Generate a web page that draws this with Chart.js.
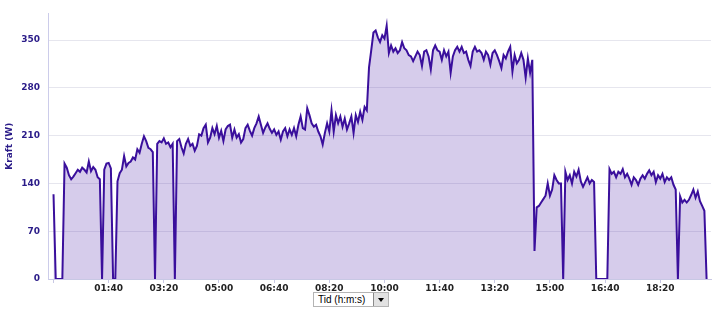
<!DOCTYPE html>
<html>
<head>
<meta charset="utf-8">
<script src="https://cdn.jsdelivr.net/npm/chart.js@4.4.0/dist/chart.umd.min.js"></script>
<style>
  body { margin: 0; background: #fff; }
  #wrap { position: relative; width: 725px; height: 320px; }
  #unit {
    position: absolute; left: 313px; top: 292px; width: 74px; height: 13px;
    border: 1px solid #b4b4b4; background: #fff;
    font: 10px "Liberation Sans", Arial, sans-serif; color: #000; line-height: 13px;
  }
  #unit span { padding-left: 4px; }
  #unit .btn {
    position: absolute; right: 0; top: 0; width: 14px; height: 13px;
    background: #e2e2e2; border-left: 1px solid #8a8a8a;
  }
  #unit .btn:after {
    content: ''; position: absolute; left: 4px; top: 5px;
    border-left: 3px solid transparent; border-right: 3px solid transparent; border-top: 4px solid #000;
  }
</style>
</head>
<body>
<div id="wrap">
  <canvas id="c" width="725" height="320"></canvas>
  <div id="unit"><span>Tid (h:m:s)</span><div class="btn"></div></div>
</div>
<script>
// power samples, one every 4 seconds
const stepSec = 4;
const watts = [
  124, 0, 0, 0, 0, 169, 163, 152, 146, 150,
  155, 160, 157, 163, 160, 156, 172, 158, 164, 160,
  149, 146, 0, 160, 169, 170, 162, 0, 0, 143,
  155, 160, 180, 165, 170, 172, 178, 175, 190, 185,
  198, 209, 202, 192, 190, 186, 0, 198, 202, 200,
  206, 198, 200, 193, 198, 0, 202, 205, 193, 184,
  198, 205, 195, 198, 188, 195, 212, 210, 221, 226,
  200, 207, 221, 212, 224, 207, 217, 202, 219, 224,
  226, 207, 219, 207, 212, 200, 205, 221, 226, 217,
  210, 221, 228, 238, 226, 214, 222, 228, 220, 214,
  219, 211, 216, 204, 216, 221, 209, 219, 211, 221,
  209, 226, 238, 221, 219, 250, 240, 228, 223, 226,
  216, 209, 197, 214, 228, 216, 247, 216, 240, 228,
  238, 223, 235, 219, 228, 238, 214, 240, 230, 245,
  233, 252, 247, 310, 335, 361, 364, 354, 347, 357,
  352, 371, 331, 342, 333, 338, 331, 335, 347, 338,
  335, 328, 326, 319, 326, 333, 328, 312, 333, 335,
  326, 307, 335, 342, 335, 333, 321, 335, 326, 333,
  302, 326, 335, 340, 333, 340, 331, 333, 321, 312,
  333, 340, 333, 335, 331, 321, 333, 328, 314, 331,
  335, 328, 319, 309, 328, 323, 333, 340, 304, 328,
  316, 321, 331, 321, 295, 323, 302, 321, 41, 105,
  107, 112, 117, 122, 140, 122, 131, 152, 145, 140,
  140, 0, 157, 145, 152, 140, 157, 150, 160, 143,
  135, 142, 149, 140, 145, 142, 0, 0, 0, 0,
  0, 0, 161, 154, 157, 149, 157, 154, 161, 149,
  154, 147, 138, 149, 145, 138, 147, 152, 147, 154,
  159, 152, 157, 142, 152, 147, 154, 142, 149, 145,
  149, 138, 131, 0, 121, 112, 116, 112, 116, 123,
  131, 119, 128, 114, 107, 100, 0
];
const timeTicks = [0, 100, 200, 300, 400, 500, 600, 700, 800, 900, 1000, 1100];
const powerTicks = [0, 70, 140, 210, 280, 350];

const pad2 = n => String(n).padStart(2, '0');
const fmtTime = s => s <= 0 ? '' : pad2(Math.floor(s / 60)) + ':' + pad2(s % 60);

const points = watts.map((w, i) => ({ x: i * stepSec, y: w }));

const tickFont = { family: 'DejaVu Sans', size: 9, weight: 'bold' };

new Chart(document.getElementById('c'), {
  type: 'line',
  data: {
    datasets: [{
      data: points,
      borderColor: '#3a0f9c',
      backgroundColor: 'rgba(80, 40, 170, 0.234)',
      borderWidth: 2,
      pointRadius: 0,
      tension: 0,
      fill: 'origin'
    }]
  },
  options: {
    responsive: false,
    animation: false,
    layout: { padding: { top: 5, right: 14, left: 0, bottom: 0 } },
    plugins: { legend: { display: false }, tooltip: { enabled: false } },
    scales: {
      x: {
        type: 'linear',
        min: -10,
        max: 1192,
        afterFit: s => { s.height = 41; },
        afterBuildTicks: s => { s.ticks = timeTicks.map(v => ({ value: v })); },
        grid: { drawOnChartArea: false, drawTicks: true, tickLength: 4, color: '#c8c8e4' },
        border: { color: '#c8c8e4' },
        ticks: {
          autoSkip: false,
          maxRotation: 0,
          padding: 0,
          color: '#222',
          font: tickFont,
          callback: v => fmtTime(v)
        }
      },
      y: {
        min: 0,
        max: 389,
        afterFit: s => { s.width = 48; },
        afterBuildTicks: s => { s.ticks = powerTicks.map(v => ({ value: v })); },
        grid: { drawTicks: false, color: '#e6e6ee' },
        border: { color: '#ccccea' },
        ticks: { padding: 8, color: '#2a1b88', font: tickFont },
        title: {
          display: true,
          text: 'Kraft (W)',
          color: '#2a1b88',
          font: { family: 'DejaVu Sans', size: 9, weight: 'bold' },
          padding: { top: 4, bottom: 4 }
        }
      }
    }
  }
});
</script>
</body>
</html>
